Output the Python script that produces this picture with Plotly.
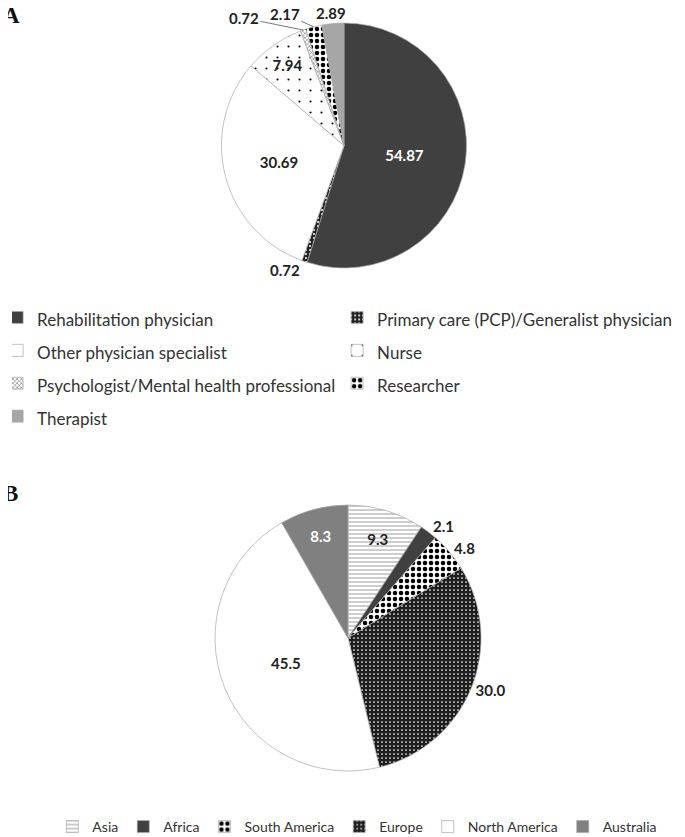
import math
import plotly.graph_objects as go

# panel A: respondent profession (%)
roles = [
    "Rehabilitation physician",
    "Primary care (PCP)/Generalist physician",
    "Other physician specialist",
    "Nurse",
    "Psychologist/Mental health professional",
    "Researcher",
    "Therapist",
]
role_pct = [54.87, 0.72, 30.69, 7.94, 0.72, 2.17, 2.89]

# panel B: respondent region (%)
regions = ["Asia", "Africa", "South America", "Europe", "North America", "Australia"]
region_pct = [9.3, 2.1, 4.8, 30.0, 45.5, 8.3]

W, H = 685, 837
OFF = 8  # the html page keeps its default 8px body margin
LBL = dict(family="Lato", size=15, weight="bold")


def fx(px):
    return (px - OFF) / W


def fy(py):
    return 1 - (py - OFF) / H


# pie geometry in screen px
A_CX, A_CY, A_R = 344, 145.5, 122.5
B_CX, B_CY, B_R = 348, 638, 133
# thin slices at the top of pie A get callouts: (index, text dx, text dy, leader line)
callouts = [(4, -59, -12, True), (5, -29, -13, True), (6, -2, -11, False)]
called = {c[0] for c in callouts}

fig = go.Figure()

fig.add_trace(
    go.Pie(
        labels=[f"<span style='font-size:17px'>{r}</span>" for r in roles],
        values=role_pct,
        sort=False,
        direction="clockwise",
        rotation=0,
        domain=dict(x=[fx(A_CX - 240), fx(A_CX + 240)],
                    y=[fy(A_CY + A_R), fy(A_CY - A_R)]),
        texttemplate="%{value:.2f}",
        textposition=["none" if i in called else p for i, p in
                      enumerate(["inside", "outside", "inside", "inside", "outside", "outside", "outside"])],
        insidetextorientation="horizontal",
        textfont=dict(
            color=["#ffffff", "#222222", "#222222", "#222222", "#222222", "#222222", "#222222"],
            **LBL,
        ),
        marker=dict(
            colors=["#404040", "#222222", "#ffffff", "#ffffff", "#ffffff", "#ffffff", "#a6a6a6"],
            line=dict(color="#a8a8a8", width=0.7),
            pattern=dict(
                shape=["", ".", "", ".", "x", ".", ""],
                fgcolor=["#404040", "#ffffff", "#ffffff", "#000000", "#555555", "#000000", "#a6a6a6"],
                bgcolor=["#404040", "#222222", "#ffffff", "#ffffff", "#ffffff", "#ffffff", "#a6a6a6"],
                size=[8, 4, 8, 11, 3, 6, 8],
                solidity=[0.2, 0.2, 0.2, 0.03, 0.3, 0.45, 0.2],
                fillmode="replace",
            ),
        ),
        legend="legend",
        hoverinfo="label+value",
    )
)

fig.add_trace(
    go.Pie(
        labels=regions,
        values=region_pct,
        sort=False,
        direction="clockwise",
        rotation=0,
        domain=dict(x=[fx(B_CX - 205), fx(B_CX + 205)],
                    y=[fy(B_CY + B_R), fy(B_CY - B_R)]),
        texttemplate="%{value:.1f}",
        textposition=["inside", "outside", "outside", "outside", "inside", "inside"],
        insidetextorientation="horizontal",
        textfont=dict(
            color=["#222222", "#222222", "#222222", "#222222", "#222222", "#ffffff"],
            **LBL,
        ),
        marker=dict(
            colors=["#ffffff", "#404040", "#ffffff", "#1e1e1e", "#ffffff", "#808080"],
            line=dict(color="#a8a8a8", width=0.7),
            pattern=dict(
                shape=["-", "", ".", ".", "", ""],
                fgcolor=["#555555", "#404040", "#000000", "#ffffff", "#ffffff", "#808080"],
                bgcolor=["#ffffff", "#404040", "#ffffff", "#1e1e1e", "#ffffff", "#808080"],
                size=[4, 8, 6, 4, 8, 8],
                solidity=[0.15, 0.2, 0.45, 0.15, 0.2, 0.2],
                fillmode="replace",
            ),
        ),
        legend="legend2",
        hoverinfo="label+value",
    )
)

# callout labels for the thin slices at the top of pie A
total = sum(role_pct)
for idx, dx, dy, line in callouts:
    mid = (sum(role_pct[:idx]) + role_pct[idx] / 2) / total * 2 * math.pi
    px = A_CX + A_R * math.sin(mid)
    py = A_CY - A_R * math.cos(mid)
    fig.add_annotation(
        text=f"{role_pct[idx]:.2f}", x=fx(px), y=fy(py), xref="paper", yref="paper",
        ax=dx, ay=dy, showarrow=True, arrowhead=0, arrowwidth=0.8,
        arrowcolor="#555555" if line else "rgba(0,0,0,0)", standoff=0,
        font=dict(color="#222222", **LBL),
    )

# panel letters
for txt, ymid in (("A", 15), ("B", 493)):
    fig.add_annotation(
        text=f"<b>{txt}</b>", x=fx(1), y=fy(ymid), xref="paper", yref="paper",
        xanchor="left", yanchor="middle", showarrow=False,
        font=dict(family="Liberation Serif", size=23, color="#111111"),
    )

fig.update_layout(
    width=W,
    height=H,
    margin=dict(l=0, r=0, t=0, b=0, autoexpand=False),
    paper_bgcolor="white",
    plot_bgcolor="white",
    font=dict(family="Lato", color="#333333"),
    legend=dict(
        orientation="h",
        xref="container", yref="container",
        x=0.006, y=1 - 288 / H, xanchor="left", yanchor="top",
        entrywidth=310,
        indentation=-15,
        font=dict(family="Lato", size=23, color="#333333"),
        bgcolor="rgba(0,0,0,0)",
        traceorder="normal",
    ),
    legend2=dict(
        orientation="h",
        xref="container", yref="container",
        x=0.51, y=1 - 803 / H, xanchor="center", yanchor="top",
        font=dict(family="Lato", size=14, color="#333333"),
        bgcolor="rgba(0,0,0,0)",
        traceorder="normal",
    ),
)

fig.write_html("out.html")
